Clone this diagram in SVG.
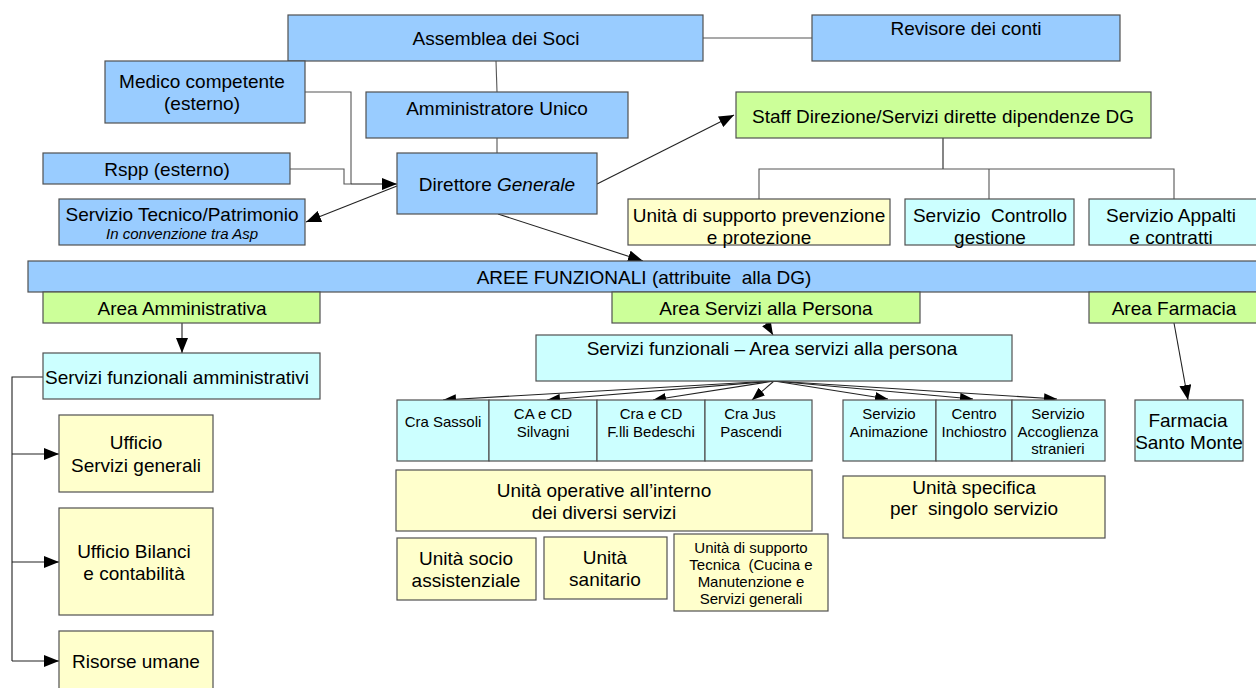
<svg xmlns="http://www.w3.org/2000/svg" width="1256" height="688" viewBox="0 0 1256 688">
<defs>
<style>
.b{fill:#99ccff;stroke:#505050;stroke-width:1.2}
.g{fill:#ccff99;stroke:#505050;stroke-width:1.2}
.y{fill:#ffffcc;stroke:#505050;stroke-width:1.2}
.c{fill:#ccffff;stroke:#505050;stroke-width:1.2}
text{font-family:"Liberation Sans",Arial,sans-serif;font-size:19px;fill:#000;text-anchor:middle;white-space:pre}
.s{font-size:15px}
.i{font-style:italic}
.ln{fill:none;stroke:#555;stroke-width:1.1}
.lk{fill:none;stroke:#222;stroke-width:1.1}
</style>
<marker id="ar" markerUnits="userSpaceOnUse" markerWidth="16" markerHeight="12" refX="15" refY="6" orient="auto">
<path d="M0,0 L15,6 L0,12 z" fill="#000"/>
</marker>
<marker id="as" markerUnits="userSpaceOnUse" markerWidth="14" markerHeight="10" refX="13" refY="5" orient="auto">
<path d="M0,0 L13,5 L0,10 z" fill="#000"/>
</marker>
</defs>

<g id="connectors">
<line class="ln" x1="703" y1="38" x2="812" y2="38"/>
<line class="ln" x1="496" y1="61" x2="497" y2="92"/>
<line class="ln" x1="497" y1="138" x2="497" y2="153"/>
<polyline class="ln" points="305,92 351,92 351,184"/>
<polyline class="ln" points="290,169 344,169 344,184 351,184"/>
<line class="lk" x1="351" y1="184" x2="397" y2="184" marker-end="url(#ar)"/>
<line class="lk" x1="397" y1="186" x2="306" y2="222" marker-end="url(#ar)"/>
<line class="lk" x1="597" y1="184" x2="734" y2="115" marker-end="url(#ar)"/>
<line class="lk" x1="498" y1="214" x2="643" y2="261" marker-end="url(#ar)"/>
<polyline class="lk" points="943,138 943,169"/>
<polyline class="ln" points="759,199 759,169 1174,169 1174,199"/>
<line class="ln" x1="989" y1="169" x2="989" y2="199"/>
<line class="lk" x1="182" y1="323" x2="182" y2="353" marker-end="url(#ar)"/>
<polyline class="lk" points="43,377 12,377 12,661"/>
<line class="lk" x1="12" y1="454" x2="59" y2="454" marker-end="url(#ar)"/>
<line class="lk" x1="12" y1="562" x2="59" y2="562" marker-end="url(#ar)"/>
<line class="lk" x1="12" y1="661" x2="59" y2="661" marker-end="url(#ar)"/>
<line class="lk" x1="766" y1="323" x2="773" y2="335" marker-end="url(#as)"/>
<line class="lk" x1="774" y1="381" x2="443" y2="400" marker-end="url(#as)"/>
<line class="lk" x1="774" y1="381" x2="547" y2="400" marker-end="url(#as)"/>
<line class="lk" x1="774" y1="381" x2="653" y2="400" marker-end="url(#as)"/>
<line class="lk" x1="774" y1="381" x2="752" y2="400" marker-end="url(#as)"/>
<line class="lk" x1="774" y1="381" x2="888" y2="399" marker-end="url(#as)"/>
<line class="lk" x1="774" y1="381" x2="973" y2="399" marker-end="url(#as)"/>
<line class="lk" x1="774" y1="381" x2="1057" y2="399" marker-end="url(#as)"/>
<line class="lk" x1="1174" y1="323" x2="1188" y2="400" marker-end="url(#ar)"/>
</g>

<g id="assemblea"><rect class="b" x="288" y="15" width="415" height="46"/><text x="496" y="45">Assemblea dei Soci</text></g>
<g id="revisore"><rect class="b" x="812" y="15" width="308" height="46"/><text x="966" y="35">Revisore dei conti</text></g>
<g id="medico"><rect class="b" x="105" y="61" width="200" height="62"/><text x="202" y="88">Medico competente</text><text x="202" y="110">(esterno)</text></g>
<g id="amministratore"><rect class="b" x="366" y="92" width="262" height="46"/><text x="497" y="115">Amministratore Unico</text></g>
<g id="direttore"><rect class="b" x="397" y="153" width="200" height="61"/><text x="497" y="191">Direttore <tspan class="i">Generale</tspan></text></g>
<g id="rspp"><rect class="b" x="43" y="153" width="247" height="31"/><text x="167" y="176">Rspp (esterno)</text></g>
<g id="tecnico"><rect class="b" x="59" y="199" width="246" height="46"/><text x="182" y="221">Servizio Tecnico/Patrimonio</text><text class="s i" x="182" y="239">In convenzione tra Asp</text></g>
<g id="staff"><rect class="g" x="736" y="92" width="415" height="46"/><text x="943" y="123">Staff Direzione/Servizi dirette dipendenze DG</text></g>
<g id="prevenzione"><rect class="y" x="628" y="199" width="262" height="46"/><text x="759" y="222">Unità di supporto prevenzione</text><text x="759" y="244">e protezione</text></g>
<g id="controllo"><rect class="c" x="905" y="199" width="169" height="46"/><text x="990" y="222">Servizio  Controllo</text><text x="990" y="244">gestione</text></g>
<g id="appalti"><rect class="c" x="1089" y="199" width="170" height="46"/><text x="1171" y="222">Servizio Appalti</text><text x="1171" y="244">e contratti</text></g>
<g id="aree"><rect class="b" x="28" y="261" width="1232" height="31"/><text x="644" y="284">AREE FUNZIONALI (attribuite  alla DG)</text></g>
<g id="area-amm"><rect class="g" x="43" y="292" width="277" height="31"/><text x="182" y="315">Area Amministrativa</text></g>
<g id="area-persona"><rect class="g" x="612" y="292" width="308" height="31"/><text x="766" y="315">Area Servizi alla Persona</text></g>
<g id="area-farmacia"><rect class="g" x="1089" y="292" width="170" height="31"/><text x="1174" y="315">Area Farmacia</text></g>
<g id="serv-amm"><rect class="c" x="43" y="353" width="277" height="46"/><text x="45" y="384" style="text-anchor:start">Servizi funzionali amministrativi</text></g>
<g id="uff-servizi"><rect class="y" x="59" y="415" width="154" height="77"/><text x="136" y="449">Ufficio</text><text x="136" y="472">Servizi generali</text></g>
<g id="uff-bilanci"><rect class="y" x="59" y="508" width="154" height="107"/><text x="134" y="558">Ufficio Bilanci</text><text x="134" y="580">e contabilità</text></g>
<g id="risorse"><rect class="y" x="59" y="631" width="154" height="62"/><text x="136" y="668">Risorse umane</text></g>
<g id="serv-persona"><rect class="c" x="536" y="335" width="476" height="46"/><text x="772" y="355">Servizi funzionali – Area servizi alla persona</text></g>
<g id="sassoli"><rect class="c" x="397" y="400" width="92" height="61"/><text class="s" x="443" y="427">Cra Sassoli</text></g>
<g id="silvagni"><rect class="c" x="489" y="400" width="108" height="61"/><text class="s" x="543" y="419">CA e CD</text><text class="s" x="543" y="437">Silvagni</text></g>
<g id="bedeschi"><rect class="c" x="597" y="400" width="108" height="61"/><text class="s" x="651" y="419">Cra e CD</text><text class="s" x="651" y="437">F.lli Bedeschi</text></g>
<g id="pascendi"><rect class="c" x="705" y="400" width="107" height="61"/><text class="s" x="750" y="419">Cra Jus</text><text class="s" x="751" y="437">Pascendi</text></g>
<g id="animazione"><rect class="c" x="843" y="400" width="93" height="61"/><text class="s" x="889" y="419">Servizio</text><text class="s" x="889" y="437">Animazione</text></g>
<g id="inchiostro"><rect class="c" x="936" y="400" width="76" height="61"/><text class="s" x="974" y="419">Centro</text><text class="s" x="974" y="437">Inchiostro</text></g>
<g id="accoglienza"><rect class="c" x="1012" y="400" width="93" height="61"/><text class="s" x="1058" y="419">Servizio</text><text class="s" x="1058" y="437">Accoglienza</text><text class="s" x="1058" y="454">stranieri</text></g>
<g id="farmacia"><rect class="c" x="1135" y="400" width="108" height="61"/><text x="1188" y="427">Farmacia</text><text x="1189" y="449">Santo Monte</text></g>
<g id="unita-operative"><rect class="y" x="396" y="470" width="416" height="61"/><text x="604" y="497">Unità operative all’interno</text><text x="604" y="519">dei diversi servizi</text></g>
<g id="unita-specifica"><rect class="y" x="843" y="476" width="262" height="62"/><text x="974" y="494">Unità specifica</text><text x="974" y="515">per  singolo servizio</text></g>
<g id="socio"><rect class="y" x="397" y="538" width="139" height="62"/><text x="466" y="565">Unità socio</text><text x="466" y="587">assistenziale</text></g>
<g id="sanitario"><rect class="y" x="544" y="537" width="123" height="62"/><text x="605" y="564">Unità</text><text x="605" y="586">sanitario</text></g>
<g id="tecnica"><rect class="y" x="674" y="534" width="154" height="77"/><text class="s" x="751" y="553">Unità di supporto</text><text class="s" x="751" y="570">Tecnica  (Cucina e</text><text class="s" x="751" y="587">Manutenzione e</text><text class="s" x="751" y="604">Servizi generali</text></g>
</svg>
